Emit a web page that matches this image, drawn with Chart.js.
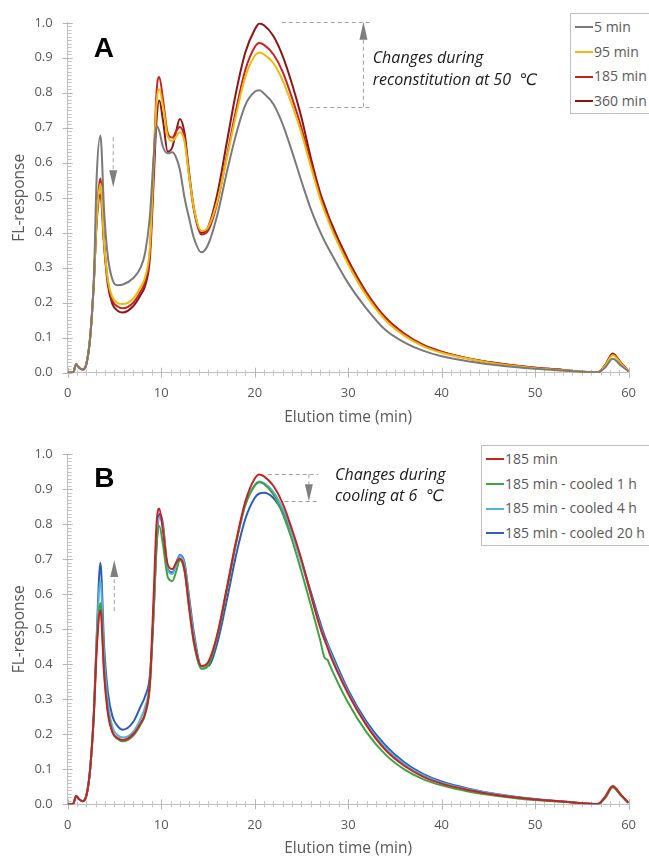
<!DOCTYPE html>
<html>
<head>
<meta charset="utf-8">
<script src="https://cdn.jsdelivr.net/npm/chart.js@4.4.1/dist/chart.umd.min.js"></script>
<style>
  body { margin: 0; width: 649px; height: 858px; overflow: hidden; background: #fff; position: relative; font-family: "Open Sans", "DejaVu Sans", sans-serif; }
  canvas { position: absolute; left: 0; }
  #chartA { top: 0; }
  #chartB { top: 430px; }
  .legend { position: absolute; border: 1px solid #bfbfbf; background: #fff; color: #595959; font-size: 14px; width: 200px; height: 99px; }
  .legend .row { position: absolute; left: 4px; height: 20px; line-height: 20px; white-space: nowrap; }
  .legend .swatch { display: inline-block; width: 18px; height: 2px; vertical-align: middle; margin-right: 1px; position: relative; top: -1px; }
  #legendA { left: 570px; top: 13px; }
  #legendB { left: 481px; top: 445px; }
</style>
</head>
<body>
<canvas id="chartA" width="649" height="430"></canvas>
<canvas id="chartB" width="649" height="428"></canvas>
<div id="legendA" class="legend"></div>
<div id="legendB" class="legend"></div>
<script>
// Elution time nodes (min), shared by every trace
const elutionTime = [0, 0.6, 0.9, 1.2, 1.6, 2.0, 2.4, 2.8,
  3.1, 3.5, 3.9, 4.3, 4.8, 5.3, 5.9,
  7, 7.8, 8.3, 8.8, 9.2, 9.5, 9.8,
  10.2, 10.7, 11.2, 11.6, 12, 12.5, 13, 13.5, 14.3,
  15, 16, 17, 18, 19, 20, 20.5, 21,
  22, 23, 24, 25, 26, 27, 27.5, 27.8, 28,
  30, 32, 34, 36, 38, 40, 43, 46, 50, 53,
  56.7, 57.5, 58.3, 59.2, 60];

// Panel A: reconstitution at 50 C
const min5 = [0, 0.002, 0.024, 0.015, 0.009, 0.025, 0.1, 0.27,
  0.56, 0.678, 0.46, 0.33, 0.265, 0.25, 0.252,
  0.27, 0.3, 0.345, 0.45, 0.62, 0.705, 0.69,
  0.645, 0.627, 0.63, 0.615, 0.58, 0.5, 0.44, 0.385, 0.344,
  0.365, 0.45, 0.57, 0.68, 0.765, 0.803, 0.807, 0.798,
  0.768, 0.71, 0.632, 0.548, 0.468, 0.403, 0.375, 0.36, 0.35,
  0.256, 0.182, 0.122, 0.087, 0.063, 0.047, 0.032, 0.021, 0.011, 0.006,
  0.001, 0.015, 0.04, 0.02, 0.004];
const min95 = [0, 0.002, 0.024, 0.015, 0.009, 0.025, 0.1, 0.26,
  0.44, 0.54, 0.37, 0.265, 0.215, 0.2, 0.196,
  0.212, 0.245, 0.275, 0.36, 0.6, 0.77, 0.81,
  0.76, 0.675, 0.662, 0.675, 0.687, 0.66, 0.56, 0.47, 0.405,
  0.415, 0.49, 0.61, 0.735, 0.845, 0.905, 0.915, 0.91,
  0.885, 0.835, 0.765, 0.685, 0.59, 0.498, 0.46, 0.44, 0.425,
  0.31, 0.218, 0.15, 0.106, 0.076, 0.057, 0.039, 0.025, 0.013, 0.007,
  0.001, 0.02, 0.05, 0.026, 0.004];
const min185 = [0, 0.002, 0.024, 0.015, 0.009, 0.025, 0.1, 0.26,
  0.44, 0.555, 0.37, 0.26, 0.205, 0.19, 0.184,
  0.2, 0.232, 0.262, 0.35, 0.6, 0.8, 0.845,
  0.78, 0.685, 0.672, 0.69, 0.702, 0.67, 0.56, 0.465, 0.395,
  0.405, 0.485, 0.615, 0.75, 0.865, 0.93, 0.942, 0.937,
  0.91, 0.86, 0.785, 0.7, 0.6, 0.505, 0.468, 0.448, 0.432,
  0.316, 0.224, 0.155, 0.11, 0.079, 0.059, 0.04, 0.026, 0.014, 0.008,
  0.001, 0.022, 0.052, 0.027, 0.004];
const min360 = [0, 0.002, 0.024, 0.015, 0.009, 0.025, 0.1, 0.26,
  0.43, 0.51, 0.36, 0.25, 0.195, 0.178, 0.172,
  0.19, 0.222, 0.25, 0.33, 0.55, 0.72, 0.778,
  0.72, 0.632, 0.645, 0.69, 0.725, 0.685, 0.57, 0.47, 0.4,
  0.415, 0.51, 0.655, 0.8, 0.915, 0.98, 0.998, 0.993,
  0.962, 0.905, 0.825, 0.73, 0.615, 0.515, 0.477, 0.455, 0.44,
  0.322, 0.228, 0.158, 0.112, 0.08, 0.06, 0.04, 0.027, 0.014, 0.008,
  0.001, 0.022, 0.055, 0.028, 0.004];

// Panel B: cooling at 6 C (185 min trace is shared with panel A)
const cooled1h = [0, 0.002, 0.024, 0.015, 0.009, 0.025, 0.1, 0.26,
  0.45, 0.575, 0.38, 0.265, 0.205, 0.187, 0.18,
  0.196, 0.228, 0.258, 0.34, 0.56, 0.74, 0.795,
  0.74, 0.65, 0.638, 0.665, 0.698, 0.665, 0.56, 0.46, 0.387,
  0.395, 0.48, 0.61, 0.745, 0.855, 0.91, 0.92, 0.915,
  0.885, 0.83, 0.755, 0.665, 0.57, 0.47, 0.418, 0.413, 0.4,
  0.29, 0.205, 0.142, 0.1, 0.072, 0.054, 0.036, 0.024, 0.012, 0.007,
  0.001, 0.018, 0.048, 0.025, 0.004];
const cooled4h = [0, 0.002, 0.024, 0.015, 0.009, 0.025, 0.1, 0.26,
  0.47, 0.638, 0.42, 0.29, 0.22, 0.198, 0.191,
  0.207, 0.245, 0.28, 0.35, 0.55, 0.75, 0.82,
  0.79, 0.67, 0.658, 0.685, 0.71, 0.685, 0.58, 0.48, 0.393,
  0.4, 0.48, 0.61, 0.745, 0.855, 0.912, 0.922, 0.918,
  0.893, 0.845, 0.775, 0.69, 0.6, 0.51, 0.47, 0.455, 0.44,
  0.32, 0.228, 0.162, 0.115, 0.083, 0.062, 0.042, 0.028, 0.014, 0.008,
  0.001, 0.02, 0.05, 0.026, 0.004];
const cooled20h = [0, 0.002, 0.024, 0.015, 0.009, 0.025, 0.1, 0.26,
  0.48, 0.69, 0.45, 0.32, 0.25, 0.225, 0.213,
  0.235, 0.28, 0.31, 0.37, 0.55, 0.73, 0.83,
  0.8, 0.672, 0.662, 0.69, 0.712, 0.69, 0.59, 0.49, 0.395,
  0.395, 0.46, 0.58, 0.71, 0.815, 0.875, 0.888, 0.89,
  0.875, 0.835, 0.775, 0.695, 0.608, 0.52, 0.48, 0.46, 0.447,
  0.327, 0.235, 0.168, 0.12, 0.087, 0.065, 0.044, 0.029, 0.015, 0.008,
  0.001, 0.02, 0.05, 0.026, 0.004];

const seriesA = [
  { label: '5 min', data: min5, color: '#7a7a7a' },
  { label: '95 min', data: min95, color: '#ecbc0c' },
  { label: '185 min', data: min185, color: '#c82323' },
  { label: '360 min', data: min360, color: '#8c1515' }
];
const seriesB = [
  { label: '185 min', data: min185, color: '#c82323' },
  { label: '185 min - cooled 1 h', data: cooled1h, color: '#3ea33e' },
  { label: '185 min - cooled 4 h', data: cooled4h, color: '#54b2e2' },
  { label: '185 min - cooled 20 h', data: cooled20h, color: '#2e5db6' }
];

const FONT = '"Open Sans", "DejaVu Sans", sans-serif';
const GREY = '#595959';

// Ticks crossing the axes, with minor ticks (1 min / 0.01)
const axisTicks = {
  id: 'axisTicks',
  beforeDatasetsDraw(chart) {
    const { ctx, scales: { x, y } } = chart;
    ctx.save();
    ctx.lineWidth = 1;
    ctx.strokeStyle = '#c4c4c4';
    ctx.beginPath();
    for (let i = 1; i < 100; i++) {
      if (i % 10 === 0) continue;
      const py = Math.round(y.getPixelForValue(i / 100)) + 0.5;
      ctx.moveTo(x.left, py); ctx.lineTo(x.left + 4, py);
    }
    for (let v = 1; v < 60; v++) {
      if (v % 10 === 0) continue;
      const px = Math.round(x.getPixelForValue(v)) + 0.5;
      ctx.moveTo(px, y.bottom - 3); ctx.lineTo(px, y.bottom + 3);
    }
    ctx.stroke();
    ctx.strokeStyle = '#b5b5b5';
    ctx.beginPath();
    for (let i = 0; i <= 10; i++) {
      const py = Math.round(y.getPixelForValue(i / 10)) + 0.5;
      ctx.moveTo(x.left - 5, py); ctx.lineTo(x.left + 5, py);
    }
    for (let v = 0; v <= 60; v += 10) {
      const px = Math.round(x.getPixelForValue(v)) + 0.5;
      ctx.moveTo(px, y.bottom - 5); ctx.lineTo(px, y.bottom + 5);
    }
    ctx.stroke();
    ctx.restore();
  }
};

function dashedArrow(ctx, x, y, t, v0, v1, head) {
  const px = x.getPixelForValue(t);
  const p0 = y.getPixelForValue(v0);
  const p1 = y.getPixelForValue(v1);
  const dir = p1 > p0 ? 1 : -1;
  ctx.setLineDash([4, 3]);
  ctx.strokeStyle = '#a0a0a0';
  ctx.beginPath();
  ctx.moveTo(px, p0); ctx.lineTo(px, p1 - dir * head);
  ctx.stroke();
  ctx.setLineDash([]);
  ctx.fillStyle = '#7f7f7f';
  ctx.beginPath();
  ctx.moveTo(px, p1);
  ctx.lineTo(px - 4, p1 - dir * head);
  ctx.lineTo(px + 4, p1 - dir * head);
  ctx.closePath();
  ctx.fill();
}

// Panel letter, dashed guides, arrows and the italic note
const notes = {
  id: 'notes',
  afterDatasetsDraw(chart, args, opts) {
    const { ctx, scales: { x, y } } = chart;
    ctx.save();
    ctx.fillStyle = '#000';
    ctx.font = 'bold 28px "Liberation Sans", Arial, sans-serif';
    ctx.textBaseline = 'alphabetic';
    ctx.fillText(opts.letter, x.getPixelForValue(opts.letterAt[0]), y.getPixelForValue(opts.letterAt[1]));

    ctx.lineWidth = 1;
    opts.guides.forEach(g => {
      ctx.setLineDash([4, 3]);
      ctx.strokeStyle = '#a0a0a0';
      ctx.beginPath();
      const py = Math.round(y.getPixelForValue(g[2])) + 0.5;
      ctx.moveTo(x.getPixelForValue(g[0]), py);
      ctx.lineTo(x.getPixelForValue(g[1]), py);
      ctx.stroke();
    });
    opts.arrows.forEach(a => dashedArrow(ctx, x, y, a[0], a[1], a[2], a[3]));

    ctx.setLineDash([]);
    ctx.fillStyle = '#1a1a1a';
    ctx.font = 'italic 16px ' + FONT;
    ctx.textBaseline = 'middle';
    opts.text.forEach(l => ctx.fillText(l[0], x.getPixelForValue(l[1]), y.getPixelForValue(l[2])));
    ctx.restore();
  }
};

function makeChart(id, series, top, xHeight, titlePad, noteOpts) {
  return new Chart(document.getElementById(id), {
    type: 'line',
    data: {
      datasets: series.map(s => ({
        label: s.label,
        data: elutionTime.map((t, i) => ({ x: t, y: s.data[i] })),
        borderColor: s.color,
        backgroundColor: s.color
      }))
    },
    options: {
      responsive: false,
      animation: false,
      layout: { padding: { top: top, right: 11.3, left: 0, bottom: 0 } },
      elements: {
        point: { radius: 0 },
        line: { borderWidth: 2, cubicInterpolationMode: 'monotone' }
      },
      plugins: {
        legend: { display: false },
        tooltip: { enabled: false },
        notes: noteOpts
      },
      scales: {
        x: {
          type: 'linear', min: 0, max: 60,
          afterFit: s => { s.height = xHeight; },
          grid: { display: false, drawTicks: false },
          border: { color: '#bfbfbf' },
          ticks: { stepSize: 10, color: GREY, font: { size: 13, family: FONT }, padding: 13, maxRotation: 0 },
          title: { display: true, text: 'Elution time (min)', color: GREY, font: { size: 15.5, family: FONT }, padding: { top: 0, bottom: titlePad } }
        },
        y: {
          min: 0, max: 1,
          afterFit: s => { s.width = 67.7; },
          grid: { display: false, drawTicks: false },
          border: { color: '#bfbfbf' },
          ticks: { stepSize: 0.1, color: GREY, font: { size: 13, family: FONT }, padding: 15, callback: v => v.toFixed(1) },
          title: { display: true, text: 'FL-response', color: GREY, font: { size: 15.5, family: FONT }, padding: { top: 10.7, bottom: 0 } }
        }
      }
    },
    plugins: [axisTicks, notes]
  });
}

makeChart('chartA', seriesA, 22.7, 57.3, 2.7, {
  letter: 'A', letterAt: [2.8, 0.902],
  guides: [[22.9, 32.3, 1.003], [25.85, 32.3, 0.76]],
  arrows: [[31.64, 0.76, 1.003, 18], [4.87, 0.673, 0.53, 17]],
  text: [['Changes during', 32.63, 0.899], ['reconstitution at 50  \u2103', 32.63, 0.836]]
});
makeChart('chartB', seriesB, 24.3, 53.7, 0, {
  letter: 'B', letterAt: [2.85, 0.907],
  guides: [[21.4, 26.8, 0.943], [23.2, 26.8, 0.866]],
  arrows: [[25.8, 0.943, 0.866, 17], [4.98, 0.552, 0.698, 17]],
  text: [['Changes during', 28.6, 0.941], ['cooling at 6  \u2103', 28.6, 0.881]]
});

function buildLegend(id, series) {
  const box = document.getElementById(id);
  series.forEach((s, i) => {
    const row = document.createElement('div');
    row.className = 'row';
    row.style.top = (3 + i * 24.7) + 'px';
    const sw = document.createElement('span');
    sw.className = 'swatch';
    sw.style.background = s.color;
    row.appendChild(sw);
    row.appendChild(document.createTextNode(s.label));
    box.appendChild(row);
  });
}
buildLegend('legendA', seriesA);
buildLegend('legendB', seriesB);
</script>
</body>
</html>
